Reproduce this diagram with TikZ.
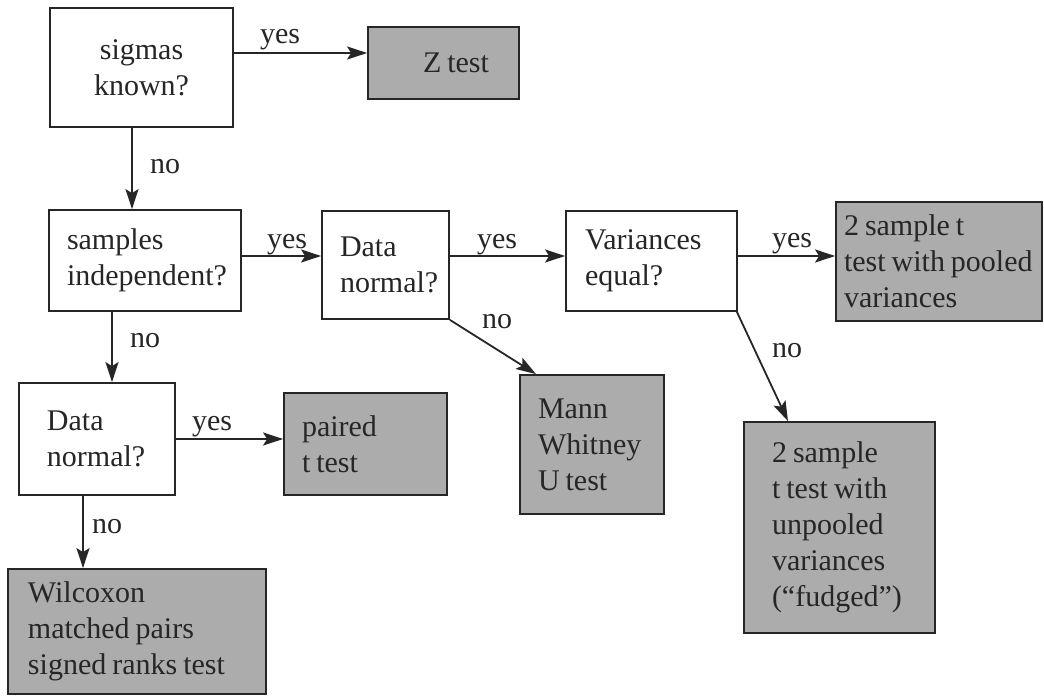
\documentclass[tikz,border=0pt]{standalone}
\usepackage{fontspec}
\setmainfont{Liberation Serif}
\usetikzlibrary{arrows.meta,calc}
\definecolor{resgray}{RGB}{172,172,172}
\definecolor{ink}{RGB}{38,38,38}
\newcommand\padtext[2]{\leftskip=#1\relax\spaceskip=0.2em\relax #2\par}
\begin{document}
\begin{tikzpicture}[x=1pt,y=-1pt,
  every node/.style={font=\fontsize{30}{36}\selectfont, text=ink},
  sz/.style 2 args={minimum width=#1pt, minimum height=#2pt, text width=#1pt},
  q/.style={draw=ink, line width=1.8pt, fill=white, inner sep=0pt, align=left},
  res/.style={draw=ink, line width=1.8pt, fill=resgray, inner sep=0pt, align=left},
  arr/.style={draw=ink, line width=1.8pt, -{Stealth[length=20pt,width=13pt,inset=4pt]}},
  lbl/.style={anchor=base, inner sep=0pt}]
\useasboundingbox (0,0) rectangle (1044,696);
\fill[white] (0,0) rectangle (1044,696);

% decision boxes
\node[q, sz={183}{119}, align=center] (sig) at (141.5,67.5) {sigmas\\known?};
\node[q, sz={192}{101}] (samp) at (145,260.5) {\padtext{18pt}{samples\\independent?}};
\node[q, sz={127}{108}] (dn1) at (385.5,265) {\padtext{18pt}{Data\\normal?}};
\node[q, sz={171}{100}] (var) at (651.5,261) {\padtext{19pt}{Variances\\equal?}};
\node[q, sz={156}{112}] (dn2) at (97,439) {\padtext{28pt}{Data\\normal?}};

% result boxes
\node[res, sz={151}{72}] (ztest) at (443.5,63) {\padtext{55pt}{Z test}};
\node[res, sz={206}{119}] (pool) at (939,261.5) {\padtext{8pt}{2 sample t\\test with pooled\\variances}};
\node[res, sz={163}{102}] (paired) at (365.5,444) {\padtext{18pt}{paired\\t test}};
\node[res, sz={144}{139}] (mann) at (592,444.5) {\padtext{18pt}{Mann\\Whitney\\U test}};
\node[res, sz={191}{211}] (unpool) at (839.5,527.5) {\padtext{28pt}{2 sample\\t test with\\unpooled\\variances\\(``fudged'')}};
\node[res, sz={258}{125}] (wil) at (137,631.5) {\padtext{20pt}{Wilcoxon\\matched pairs\\signed ranks test}};

% connectors
\draw[arr] ([yshift=14.5pt]sig.east) -- ([yshift=10pt]ztest.west);
\draw[arr] ([xshift=-9.5pt]sig.south) -- ([xshift=-9.5pt]sig.south |- samp.north);
\draw[arr] ([yshift=4.5pt]samp.east) -- ([yshift=4.5pt]samp.east -| dn1.west);
\draw[arr] ([yshift=9pt]dn1.east) -- ([yshift=9pt]dn1.east -| var.west);
\draw[arr] ([yshift=5pt]var.east) -- ([yshift=5pt]var.east -| pool.west);
\draw[arr] ([xshift=-1pt]var.south east) -- ([xshift=-51.5pt]unpool.north);
\draw[arr] (dn1.south east) -- ([xshift=-56pt]mann.north);
\draw[arr] ([xshift=-33pt]samp.south) -- ([xshift=-33pt]samp.south |- dn2.north);
\draw[arr] (dn2.east) -- (dn2.east -| paired.west);
\draw[arr] ([xshift=-14pt]dn2.south) -- ([xshift=-14pt]dn2.south |- wil.north);

% labels
\node[lbl] (l1) at (280,43) {yes};
\node[lbl] (l2) at (165,173) {no};
\node[lbl] (l3) at (287,248) {yes};
\node[lbl] (l4) at (497,248) {yes};
\node[lbl] (l5) at (792,247) {yes};
\node[lbl] (l6) at (787,357) {no};
\node[lbl] (l7) at (497,328) {no};
\node[lbl] (l8) at (145,347) {no};
\node[lbl] (l9) at (212,430) {yes};
\node[lbl] (l10) at (107,533) {no};
\end{tikzpicture}
\end{document}
